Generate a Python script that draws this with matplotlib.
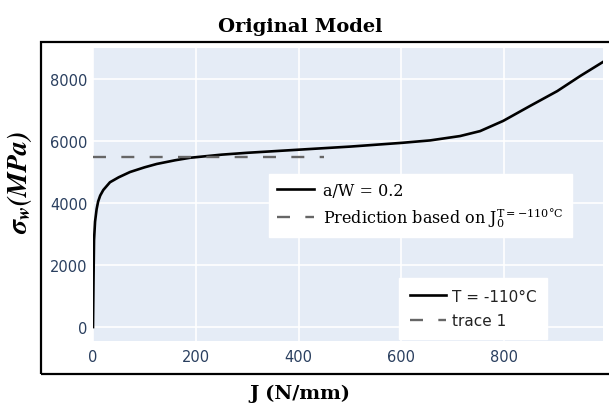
import numpy as np
import matplotlib.pyplot as plt
from matplotlib.lines import Line2D
from matplotlib.patches import Rectangle

plt.rcParams['mathtext.fontset'] = 'dejavuserif'

# данные
J = [0, 1, 2, 4, 7, 10, 14, 20, 33, 50, 72, 100, 124, 160, 189, 250, 300, 400,
     500, 600, 656, 714, 753, 798, 850, 903, 948, 992]
sigma = [0, 1500, 2800, 3400, 3800, 4050, 4240, 4420, 4670, 4830, 5000, 5150,
         5260, 5380, 5460, 5560, 5620, 5720, 5820, 5940, 6020, 6160, 6320,
         6650, 7130, 7610, 8100, 8550]
J_pred = [0, 450]
sigma_pred = [5470, 5470]

x_ticks = [0, 200, 400, 600, 800]
y_ticks = [0, 2000, 4000, 6000, 8000]

W, H = 609, 406
fig = plt.figure(figsize=(W / 100, H / 100), dpi=100)

# внешняя рамка
fig.patches.append(Rectangle((41 / W, 1 - 375 / H), 1.0, (375 - 43) / H,
                             transform=fig.transFigure, fill=False,
                             edgecolor='black', linewidth=1.6, zorder=0))

ax = fig.add_axes([93 / W, 1 - 342 / H, (603 - 93) / W, (342 - 49) / H])
ax.set_facecolor('#E5ECF6')
for s in ax.spines.values():
    s.set_visible(False)
ax.grid(True, color='white', linewidth=1.2)
ax.set_axisbelow(True)

l1, = ax.plot(J, sigma, color='black', linewidth=1.9, label='T = -110°C')
l2, = ax.plot(J_pred, sigma_pred, color='#666666', linewidth=1.7,
              dashes=(5.5, 6.5), label='trace 1')

ax.set_xlim(0, 992)
ax.set_ylim(-450, 9000)
ax.set_xticks(x_ticks)
ax.set_yticks(y_ticks)
ax.tick_params(length=0, labelsize=10.5, labelcolor='#2a3f5f')
ax.tick_params(axis='y', pad=4)
ax.tick_params(axis='x', pad=6)
for t in ax.get_xticklabels() + ax.get_yticklabels():
    t.set_family('DejaVu Sans')

# легенда plotly
leg2 = ax.legend(handles=[l1, l2], loc='upper left',
                 bbox_to_anchor=((399 - 93) / (603 - 93), (342 - 279) / (342 - 49)),
                 frameon=True, fancybox=False, framealpha=1, edgecolor='white',
                 prop={'family': 'DejaVu Sans', 'size': 11}, handlelength=2.4,
                 handletextpad=0.35, borderpad=0.7, labelspacing=0.6,
                 borderaxespad=0)
for t in leg2.get_texts():
    t.set_color('#222222')

# наложенная легенда
h1 = Line2D([], [], color='black', linewidth=1.9)
h2 = Line2D([], [], color='#666666', linewidth=1.7, dashes=(5.5, 6.5))
leg1 = ax.legend(handles=[h1, h2],
                 labels=['a/W = 0.2',
                         r'Prediction based on $\mathrm{J}_0^{\mathrm{T=-110°C}}$'],
                 loc='upper left',
                 bbox_to_anchor=((269 - 93) / (603 - 93), (342 - 175) / (342 - 49)),
                 frameon=True, fancybox=False, framealpha=1, edgecolor='white',
                 prop={'family': 'DejaVu Serif', 'size': 11.5}, handlelength=2.3,
                 handletextpad=0.6, borderpad=0.5, labelspacing=0.4,
                 borderaxespad=0)
ax.add_artist(leg2)

fig.text(300 / W, 1 - 27 / H, 'Original Model', ha='center', va='center',
         family='DejaVu Serif', fontweight='bold', fontsize=14)
fig.text(300 / W, 1 - 394 / H, 'J (N/mm)', ha='center', va='center',
         family='DejaVu Serif', fontweight='bold', fontsize=14)
fig.text(20 / W, 1 - 183 / H, r'$\mathbfit{\sigma_w(MPa)}$', ha='center',
         va='center', rotation=90, fontsize=20, math_fontfamily='stix')

fig.savefig('out.png', dpi=100)
